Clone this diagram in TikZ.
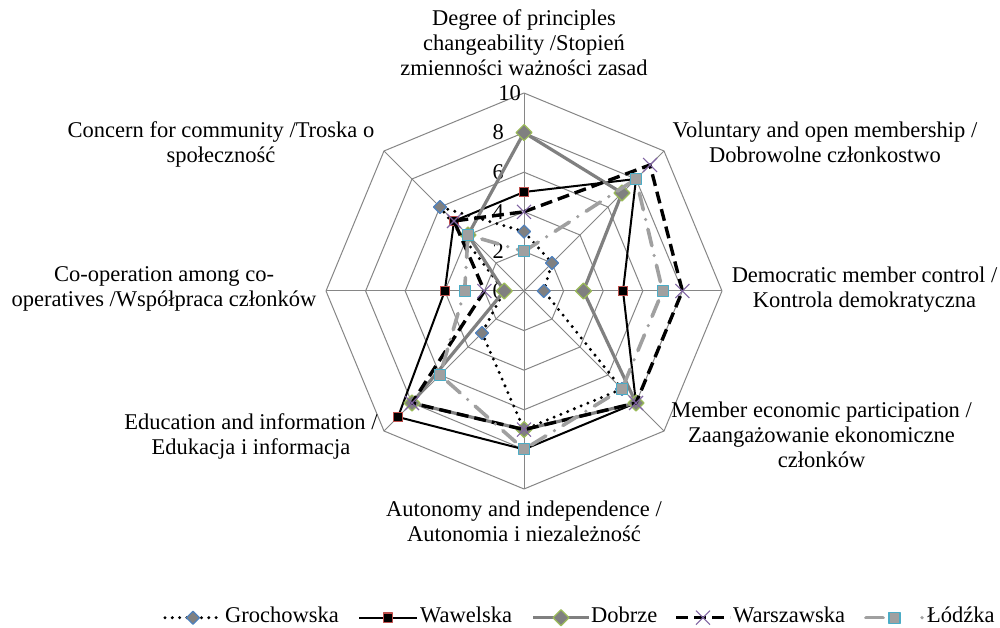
\documentclass[tikz,border=0pt]{standalone}
\usepackage{fontspec}
\setmainfont{Liberation Serif}
\usetikzlibrary{calc}
\definecolor{gridgray}{HTML}{868686}
\definecolor{dgray}{HTML}{808080}
\definecolor{lgray}{HTML}{A0A0A0}
\definecolor{mblue}{HTML}{4F81BD}
\definecolor{mred}{HTML}{C0504D}
\definecolor{mgreen}{HTML}{9BBB59}
\definecolor{mpurple}{HTML}{8064A2}
\definecolor{mcyan}{HTML}{4BACC6}
\newcommand\rstep{19.8}
\tikzset{
  gromk/.pic={\draw[mblue, fill=dgray, line width=1.2pt, solid] (0,6.5) -- (6.5,0) -- (0,-6.5) -- (-6.5,0) -- cycle;},
  wawmk/.pic={\draw[mred, fill=black, line width=1.2pt, solid] (-4.6,-4.6) rectangle (4.6,4.6);},
  dobmk/.pic={\draw[mgreen, fill=dgray, line width=1.2pt, solid] (0,8) -- (8,0) -- (0,-8) -- (-8,0) -- cycle;},
  warmk/.pic={\draw[mpurple, line width=1.1pt, solid] (-7,-7) -- (7,7) (-7,7) -- (7,-7);},
  lodmk/.pic={\draw[mcyan, fill=lgray, line width=1.2pt, solid] (-5.5,-5.5) rectangle (5.5,5.5);}
}
\begin{document}
\begin{tikzpicture}[x=1pt, y=1pt, line join=round,
  grid/.style={draw=gridgray, line width=1pt},
  lab/.style={font=\fontsize{22.5}{25}\selectfont, align=center, inner sep=0pt,
    execute at begin node=\strut, execute at end node=\strut},
  tick/.style={font=\fontsize{22.5}{25}\selectfont, anchor=east, inner sep=0pt},
  leg/.style={font=\fontsize{22.5}{25}\selectfont, anchor=west, inner sep=0pt,
    execute at begin node=\strut},
  gro/.style={black, line width=3.3pt, line cap=round, dash pattern=on 0pt off 7.3pt},
  waw/.style={black, line width=2pt},
  dob/.style={dgray, line width=3.2pt},
  war/.style={black, line width=3.4pt, dash pattern=on 12pt off 6pt},
  lod/.style={lgray, line width=3.6pt, line cap=round, dash pattern=on 17pt off 10pt on 0pt off 10pt}]
\fill[white] (0,0) rectangle (1000,628);
\useasboundingbox (0,0) rectangle (1000,628);

% grid and spokes
\begin{scope}[shift={(524,337)}]
\foreach \r in {2,4,...,10}
  \draw[grid] (90:{\r*\rstep}) \foreach \a in {45,0,...,-225} {-- (\a:{\r*\rstep})} -- cycle;
\foreach \a in {90,45,...,-225}
  \draw[grid] (0,0) -- (\a:{10*\rstep});

% tick labels
\foreach \r in {0,2,4,6,8}
  \node[tick] (t\r) at (-20,{\r*\rstep}) {\r};
\node[tick] (t10) at (-3,{10*\rstep}) {10};

% series points
\foreach \v [count=\i] in {3,2,1,7,7,3,1,6}
  \coordinate (g\i) at ({90-45*(\i-1)}:{\v*\rstep});
\foreach \v [count=\i] in {5,8,5,8,8,9,4,5}
  \coordinate (w\i) at ({90-45*(\i-1)}:{\v*\rstep});
\foreach \v [count=\i] in {8,7,3,8,7,8,1,4}
  \coordinate (d\i) at ({90-45*(\i-1)}:{\v*\rstep});
\foreach \v [count=\i] in {4,9,8,8,7,8,2,5}
  \coordinate (s\i) at ({90-45*(\i-1)}:{\v*\rstep});
\foreach \v [count=\i] in {2,8,7,7,8,6,3,4}
  \coordinate (l\i) at ({90-45*(\i-1)}:{\v*\rstep});

% Grochowska
\draw[gro] (g1) -- (g2) -- (g3) -- (g4) -- (g5) -- (g6) -- (g7) -- (g8) -- cycle;
\foreach \i in {1,...,8} \pic at (g\i) {gromk};
% Wawelska
\draw[waw] (w1) -- (w2) -- (w3) -- (w4) -- (w5) -- (w6) -- (w7) -- (w8) -- cycle;
\foreach \i in {1,...,8} \pic at (w\i) {wawmk};
% Dobrze
\draw[dob] (d1) -- (d2) -- (d3) -- (d4) -- (d5) -- (d6) -- (d7) -- (d8) -- cycle;
\foreach \i in {1,...,8} \pic at (d\i) {dobmk};
% Warszawska
\draw[war] (s1) -- (s2) -- (s3) -- (s4) -- (s5) -- (s6) -- (s7) -- (s8) -- cycle;
\foreach \i in {1,...,8} \pic at (s\i) {warmk};
% Lodzka
\draw[lod] (l1) -- (l2) -- (l3) -- (l4) -- (l5) -- (l6) -- (l7) -- (l8) -- cycle;
\foreach \i in {1,...,8} \pic at (l\i) {lodmk};
\end{scope}

% axis labels
\node[lab] (degree) at (524,581.5) {Degree of principles\\changeability /Stopień\\zmienności ważności zasad};
\node[lab] (volunt) at (825,482.2) {Voluntary and open membership /\\Dobrowolne członkostwo};
\node[lab] (democr) at (864.5,337.2) {Democratic member control /\\Kontrola demokratyczna};
\node[lab] (member) at (821.5,189.3) {Member economic participation /\\Zaangażowanie ekonomiczne\\członków};
\node[lab] (autono) at (524,102.8) {Autonomy and independence /\\Autonomia i niezależność};
\node[lab] (educat) at (251,190.1) {Education and information /\\Edukacja i informacja};
\node[lab] (cooper) at (164,337.2) {Co-operation among co-\\operatives /Współpraca członków};
\node[lab] (concer) at (221,482.2) {Concern for community /Troska o\\społeczność};

% legend
\coordinate (k1a) at (165,10.3); \coordinate (k1b) at (221,10.3);
\draw[gro] (k1a) -- (k1b); \pic at ($(k1a)!0.5!(k1b)$) {gromk};
\node[leg] (kgro) at (225,10.3) {Grochowska};
\coordinate (k2a) at (359,10.3); \coordinate (k2b) at (417,10.3);
\draw[waw] (k2a) -- (k2b); \pic at ($(k2a)!0.5!(k2b)$) {wawmk};
\node[leg] (kwaw) at (420,10.3) {Wawelska};
\coordinate (k3a) at (533,10.3); \coordinate (k3b) at (589,10.3);
\draw[dob] (k3a) -- (k3b); \pic at ($(k3a)!0.5!(k3b)$) {dobmk};
\node[leg] (kdob) at (591,10.3) {Dobrze};
\coordinate (k4a) at (676,10.3); \coordinate (k4b) at (730,10.3);
\draw[war] (k4a) -- (k4b); \pic at ($(k4a)!0.5!(k4b)$) {warmk};
\node[leg] (kwar) at (733,10.3) {Warszawska};
\coordinate (k5a) at (866,10.3); \coordinate (k5b) at (923,10.3);
\draw[lod, dash pattern=on 17pt off 39pt on 0pt off 10pt] (k5a) -- (k5b); \pic at ($(k5a)!0.5!(k5b)$) {lodmk};
\node[leg] (klod) at (927,10.3) {Łódźka};
\end{tikzpicture}
\end{document}
